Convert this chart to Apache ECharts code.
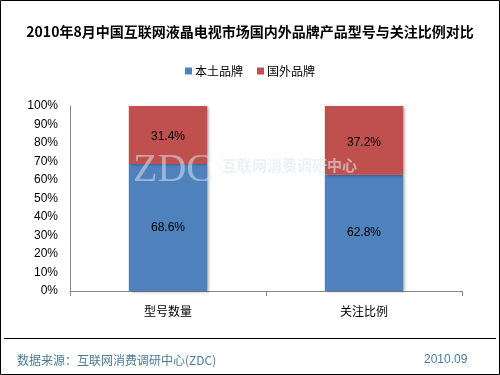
<!DOCTYPE html>
<html><head><meta charset="utf-8">
<script src="https://cdn.jsdelivr.net/npm/echarts@6/dist/echarts.min.js"></script>
<style>html,body{margin:0;padding:0;background:#fff}#c{width:500px;height:375px}</style>
</head><body><div id="c"></div>
<script>
const categories = ['型号数量', '关注比例'];
const domestic = [68.6, 62.8];
const foreign = [31.4, 37.2];
const seriesNames = ['本土品牌', '国外品牌'];
const yTicks = [0, 10, 20, 30, 40, 50, 60, 70, 80, 90, 100];

const FONT = '"Liberation Sans", Arial, "Noto Sans CJK SC", sans-serif';
const chart = echarts.init(document.getElementById('c'));
const barStyle = (c) => ({color: c, shadowColor: 'rgba(0,0,0,0.35)', shadowBlur: 3, shadowOffsetX: 2, shadowOffsetY: 1});
chart.setOption({
  animation: false,
  textStyle: {fontFamily: FONT},
  title: {
    text: '2010年8月中国互联网液晶电视市场国内外品牌产品型号与关注比例对比',
    left: 'center', top: 20,
    textStyle: {fontSize: 14, fontWeight: 'bold', color: '#000', fontFamily: '"Noto Sans CJK SC", sans-serif'}
  },
  legend: {
    data: seriesNames, top: 60, left: 'center',
    itemWidth: 7, itemHeight: 7, itemGap: 14, icon: 'rect',
    textStyle: {fontSize: 12, color: '#000', fontFamily: '"Noto Sans CJK SC", sans-serif', padding: [0,0,0,-2]}
  },
  grid: {left: 70, right: 38, top: 106, bottom: 84},
  xAxis: {
    type: 'category', data: categories,
    axisLine: {lineStyle: {color: '#888'}},
    axisTick: {show: true, alignWithLabel: false, length: 5, lineStyle: {color: '#888'}},
    axisLabel: {fontSize: 12, color: '#000', margin: 14, fontFamily: '"Noto Sans CJK SC", sans-serif'}
  },
  yAxis: {
    type: 'value', min: 0, max: 100, interval: 10,
    axisLine: {show: true, lineStyle: {color: '#888'}},
    axisTick: {show: false},
    splitLine: {show: false},
    axisLabel: {fontSize: 12, color: '#000', margin: 12, formatter: v => yTicks.includes(v) ? v + '%' : ''}
  },
  series: [
    {name: seriesNames[0], type: 'bar', stack: 's', data: domestic, barWidth: '40%',
     itemStyle: barStyle('#4f81bd'),
     label: {show: true, formatter: p => p.value.toFixed(1) + '%', color: '#000', fontSize: 12}},
    {name: seriesNames[1], type: 'bar', stack: 's', data: foreign, barWidth: '40%',
     itemStyle: barStyle('#c0504d'),
     label: {show: true, formatter: p => p.value.toFixed(1) + '%', color: '#000', fontSize: 12, offset: [0, 2]}}
  ],
  graphic: [
    {type: 'rect', shape: {x: 0.5, y: 0.5, width: 499, height: 374}, style: {fill: 'none', stroke: '#000', lineWidth: 1}, z: 100},
    {type: 'line', shape: {x1: 4, y1: 338.5, x2: 496, y2: 338.5}, style: {stroke: '#000', lineWidth: 1}},
    {type: 'text', left: 17, top: 354, style: {text: '数据来源：互联网消费调研中心(ZDC)', fill: '#4a7d99', font: '12px "Noto Sans CJK SC", sans-serif'}},
    {type: 'text', left: 424, top: 354, style: {text: '2010.09', fill: '#4a7d99', font: '12px "Liberation Sans", Arial, sans-serif'}},
    {type: 'text', left: 133, top: 150, z: 50, style: {text: 'ZDC', fill: 'rgba(215,225,240,0.55)', font: '40px "Liberation Serif", serif', shadowColor: 'rgba(0,0,0,0.15)', shadowBlur: 2, shadowOffsetX: 1, shadowOffsetY: 1}},
    {type: 'text', left: 222, top: 158, z: 50, style: {text: '互联网消费调研中心', fill: 'rgba(225,230,240,0.6)', font: 'bold 15px "Noto Sans CJK SC", sans-serif', shadowColor: 'rgba(0,0,0,0.15)', shadowBlur: 2, shadowOffsetX: 1, shadowOffsetY: 1}}
  ]
});
</script></body></html>
